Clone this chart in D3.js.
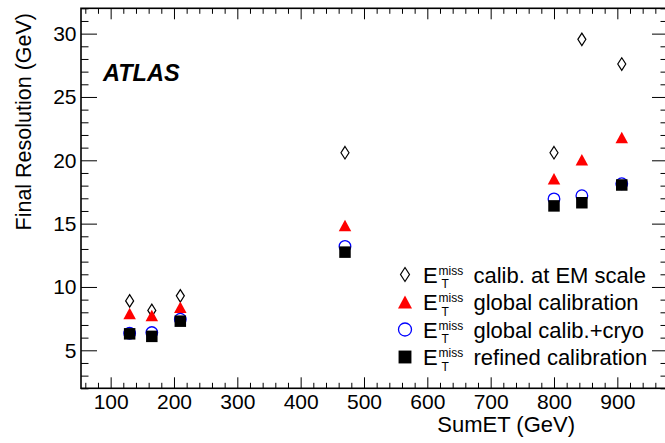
<!DOCTYPE html>
<html><head><meta charset="utf-8">
<script src="https://cdn.jsdelivr.net/npm/d3@7"></script>
<style>
body{margin:0;background:#fff}
svg{display:block;font-family:"Liberation Sans",Arial,Helvetica,sans-serif}
</style></head>
<body><svg id="chart" width="665" height="443"></svg>
<script>
// ---- data ----
const sumET        = [130, 165, 210, 470, 800, 844, 907];
const emScale      = [8.9, 8.15, 9.3, 20.6, 20.6, 29.55, 27.6];
const globalCalib  = [7.9, 7.75, 8.4, 14.85, 18.55, 20.05, 21.8];
const globalCryo   = [6.35, 6.4, 7.45, 13.2, 16.95, 17.2, 18.15];
const refinedCalib = [6.3, 6.1, 7.3, 12.75, 16.4, 16.65, 18.05];
const seriesNames  = ["calib. at EM scale", "global calibration", "global calib.+cryo", "refined calibration"];
const xTickValues  = [100, 200, 300, 400, 500, 600, 700, 800, 900];
const yTickValues  = [5, 10, 15, 20, 25, 30];
const xTitle = "SumET (GeV)";
const yTitle = "Final Resolution (GeV)";
const expLabel = "ATLAS";

// ---- layout ----
const L = 81, R = 668, T = 8.3, B = 388.3;
const svg = d3.select("#chart");
const x = d3.scaleLinear().domain([53.2, 980]).range([L, R]);
const y = d3.scaleLinear().domain([2, 32]).range([B, T]);

const xMinor = d3.range(60, 981, 20).filter(v => v % 100 !== 0);
const yMinor = d3.range(2, 33, 1).filter(v => v % 5 !== 0);

function styleAxis(g) {
  g.select(".domain").remove();
  g.selectAll("line").attr("stroke", "#000").attr("stroke-width", 1);
  g.attr("font-family", null);
}
// bottom
svg.append("g").attr("transform", `translate(0,${B})`)
  .call(d3.axisBottom(x).tickValues(xTickValues).tickSize(-11).tickPadding(6).tickFormat(d3.format("d")))
  .call(styleAxis).attr("font-size", 21);
svg.append("g").attr("transform", `translate(0,${B})`)
  .call(d3.axisBottom(x).tickValues(xMinor).tickSize(-5.5).tickFormat(""))
  .call(styleAxis);
// top
svg.append("g").attr("transform", `translate(0,${T})`)
  .call(d3.axisTop(x).tickValues(xTickValues).tickSize(-11).tickFormat(""))
  .call(styleAxis);
svg.append("g").attr("transform", `translate(0,${T})`)
  .call(d3.axisTop(x).tickValues(xMinor).tickSize(-5.5).tickFormat(""))
  .call(styleAxis);
// left
svg.append("g").attr("transform", `translate(${L},0)`)
  .call(d3.axisLeft(y).tickValues(yTickValues).tickSize(-16).tickPadding(4.5).tickFormat(d3.format("d")))
  .call(styleAxis).attr("font-size", 21);
svg.append("g").attr("transform", `translate(${L},0)`)
  .call(d3.axisLeft(y).tickValues(yMinor).tickSize(-7.5).tickFormat(""))
  .call(styleAxis);
// right
svg.append("g").attr("transform", `translate(${R},0)`)
  .call(d3.axisRight(y).tickValues(yTickValues).tickSize(-16).tickFormat(""))
  .call(styleAxis);
svg.append("g").attr("transform", `translate(${R},0)`)
  .call(d3.axisRight(y).tickValues(yMinor).tickSize(-7.5).tickFormat(""))
  .call(styleAxis);

// frame
svg.append("rect").attr("x", L).attr("y", T).attr("width", R - L).attr("height", B - T)
  .attr("fill", "none").attr("stroke", "#000").attr("stroke-width", 1.6);

// titles
svg.append("text").attr("x", 575).attr("y", 432).attr("text-anchor", "end")
  .attr("font-size", 22).text(xTitle);
svg.append("text").attr("transform", "translate(30.5,13) rotate(-90)").attr("text-anchor", "end")
  .attr("font-size", 21.5).text(yTitle);
svg.append("text").attr("x", 103).attr("y", 80.5).attr("font-size", 23.5)
  .attr("font-weight", "bold").attr("font-style", "italic").text(expLabel);

// ---- marker shapes ----
const diamondSym = (w, h) => ({ draw(ctx) { ctx.moveTo(0, -h / 2); ctx.lineTo(w / 2, 0); ctx.lineTo(0, h / 2); ctx.lineTo(-w / 2, 0); ctx.closePath(); } });
const triSym = (w, h) => ({ draw(ctx) { ctx.moveTo(0, -h / 2); ctx.lineTo(w / 2, h / 2); ctx.lineTo(-w / 2, h / 2); ctx.closePath(); } });
const sqSym = (s) => ({ draw(ctx) { ctx.rect(-s / 2, -s / 2, s, s); } });
const circSym = (r) => ({ draw(ctx) { ctx.moveTo(r, 0); ctx.arc(0, 0, r, 0, 2 * Math.PI); } });

const series = [
  { vals: emScale,      sym: k => diamondSym(8 * k, 12.5 * k), fill: "none", stroke: "#000", sw: 1.2 },
  { vals: globalCalib,  sym: k => triSym(12.5 * k, 11.5 * k),  fill: "#ff0000", stroke: "none", sw: 0 },
  { vals: globalCryo,   sym: k => circSym(5.8 * k),            fill: "none", stroke: "#0000ff", sw: 1.3 },
  { vals: refinedCalib, sym: k => sqSym(11.5 * k),             fill: "#000", stroke: "none", sw: 0 }
];

series.forEach(s => {
  svg.append("g").selectAll("path").data(sumET.map((v, i) => [v, s.vals[i]])).join("path")
    .attr("transform", d => `translate(${x(d[0])},${y(d[1])})`)
    .attr("d", d3.symbol().type(s.sym(1)).size(1)())
    .attr("fill", s.fill).attr("stroke", s.stroke).attr("stroke-width", s.sw);
});

// ---- legend ----
const legRows = [274.5, 302, 329.5, 357];
const leg = svg.append("g");
series.forEach((s, i) => {
  const cy = legRows[i];
  leg.append("path").attr("transform", `translate(405,${cy})`)
    .attr("d", d3.symbol().type(s.sym(1.12)).size(1)())
    .attr("fill", s.fill).attr("stroke", s.stroke).attr("stroke-width", s.sw);
  const t = leg.append("text").attr("font-size", 22);
  t.append("tspan").attr("x", 423).attr("y", cy + 8).text("E");
  t.append("tspan").attr("x", 438.5).attr("y", cy + 0).attr("font-size", 12).text("miss");
  t.append("tspan").attr("x", 441.5).attr("y", cy + 13.6).attr("font-size", 12).text("T");
  t.append("tspan").attr("x", 473.5).attr("y", cy + 8).text(seriesNames[i]);
});
</script></body></html>
